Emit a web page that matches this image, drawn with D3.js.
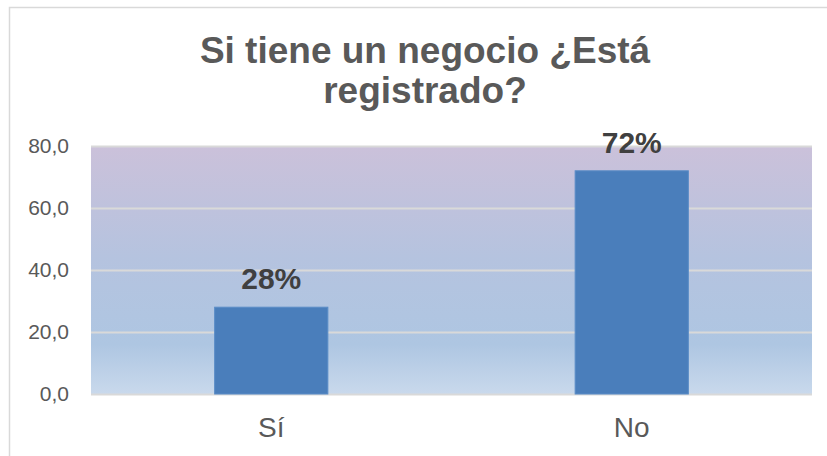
<!DOCTYPE html>
<html>
<head>
<meta charset="utf-8">
<script src="https://cdn.jsdelivr.net/npm/d3@7"></script>
<style>
  body { margin: 0; background: #fff; }
  svg { display: block; font-family: "Liberation Sans", Arial, sans-serif; }
</style>
</head>
<body>
<div id="chart"></div>
<script>
const titleLines = ['Si tiene un negocio ¿Está', 'registrado?'];
const categories = ['Sí', 'No'];
const values = [28, 72];
const valueLabels = ['28%', '72%'];
const yTicks = [0, 20, 40, 60, 80];

const W = 827, H = 456;
const plot = { left: 91, right: 812, top: 146, bottom: 394 };

const svg = d3.select('#chart')
  .append('svg')
  .attr('width', W)
  .attr('height', H);

// chart frame
svg.append('rect')
  .attr('x', 9.5).attr('y', 7.5)
  .attr('width', 830).attr('height', 460)
  .attr('fill', '#fff')
  .attr('stroke', '#d9d9d9')
  .attr('stroke-width', 1.5);

// plot background gradient
const grad = svg.append('defs').append('linearGradient')
  .attr('id', 'bg').attr('x1', 0).attr('y1', 0).attr('x2', 0).attr('y2', 1);
grad.append('stop').attr('offset', '0%').attr('stop-color', '#cbc1da');
grad.append('stop').attr('offset', '45%').attr('stop-color', '#b5c3df');
grad.append('stop').attr('offset', '80%').attr('stop-color', '#aec6e2');
grad.append('stop').attr('offset', '100%').attr('stop-color', '#c9d9ec');

svg.append('rect')
  .attr('x', plot.left).attr('y', plot.top)
  .attr('width', plot.right - plot.left)
  .attr('height', plot.bottom - plot.top)
  .attr('fill', 'url(#bg)');

// scales
const x = d3.scaleBand()
  .domain(categories)
  .range([plot.left, plot.right]);

const y = d3.scaleLinear()
  .domain([0, 80])
  .range([plot.bottom, plot.top]);

// gridlines
const grid = svg.append('g')
  .attr('transform', 'translate(' + plot.left + ',0)')
  .call(d3.axisLeft(y).tickValues(yTicks).tickSize(-(plot.right - plot.left)).tickFormat(''));
grid.select('.domain').remove();
grid.selectAll('line').attr('stroke', '#d9d9d9').attr('stroke-width', 2);

// y axis labels
const yAxis = svg.append('g')
  .attr('transform', 'translate(69,0)')
  .call(d3.axisLeft(y).tickValues(yTicks).tickSize(0).tickPadding(0)
    .tickFormat(d => d.toFixed(1).replace('.', ',')));
yAxis.select('.domain').remove();
yAxis.selectAll('text')
  .attr('fill', '#595959')
  .style('font-size', '21px')
  .style('font-family', '"Liberation Sans", Arial, sans-serif');

// bars
const barW = x.bandwidth() * 0.314;
svg.append('g').selectAll('rect')
  .data(values)
  .join('rect')
  .attr('x', (d, i) => x(categories[i]) + x.bandwidth() / 2 - barW / 2)
  .attr('y', d => y(d))
  .attr('width', barW)
  .attr('height', d => y(0) - y(d))
  .attr('fill', '#4a7ebb')
  .attr('stroke', '#5a8cc6')
  .attr('stroke-width', 1);

// value labels
svg.append('g').selectAll('text')
  .data(values)
  .join('text')
  .attr('x', (d, i) => x(categories[i]) + x.bandwidth() / 2)
  .attr('y', d => y(d) - 18)
  .attr('text-anchor', 'middle')
  .attr('fill', '#404040')
  .style('font-size', '30px')
  .style('font-weight', 'bold')
  .text((d, i) => valueLabels[i]);

// category labels
svg.append('g').selectAll('text')
  .data(categories)
  .join('text')
  .attr('x', d => x(d) + x.bandwidth() / 2)
  .attr('y', 437)
  .attr('text-anchor', 'middle')
  .attr('fill', '#595959')
  .style('font-size', '28px')
  .text(d => d);

// title
svg.append('text')
  .attr('text-anchor', 'middle')
  .attr('fill', '#595959')
  .style('font-size', '37px')
  .style('font-weight', 'bold')
  .selectAll('tspan')
  .data(titleLines)
  .join('tspan')
  .attr('x', 425)
  .attr('y', (d, i) => 63 + i * 40)
  .text(d => d);
</script>
</body>
</html>
